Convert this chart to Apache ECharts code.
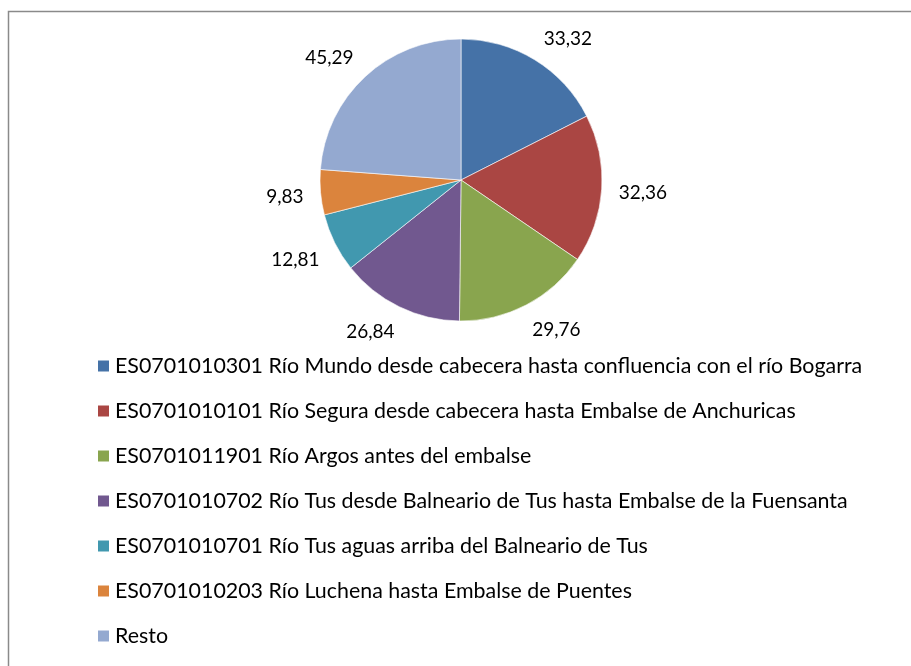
<!DOCTYPE html>
<html>
<head>
<meta charset="utf-8">
<script src="https://cdn.jsdelivr.net/npm/echarts@6/dist/echarts.min.js"></script>
<style>
html, body { margin: 0; padding: 0; background: #fff; }
#chart { width: 911px; height: 666px; }
</style>
</head>
<body>
<div id="chart"></div>
<script>
const categories = [
  'ES0701010301 Río Mundo desde cabecera hasta confluencia con el río Bogarra',
  'ES0701010101 Río Segura desde cabecera hasta Embalse de Anchuricas',
  'ES0701011901 Río Argos antes del embalse',
  'ES0701010702 Río Tus desde Balneario de Tus hasta Embalse de la Fuensanta',
  'ES0701010701 Río Tus aguas arriba del Balneario de Tus',
  'ES0701010203 Río Luchena hasta Embalse de Puentes',
  'Resto'
]
const values = [33.32, 32.36, 29.76, 26.84, 12.81, 9.83, 45.29]
const colors = ['#4572A7', '#AA4643', '#89A54E', '#71588F', '#4198AF', '#DB843D', '#94A9D0']

const cx = 461
const cy = 180
const radius = 141
const fontFamily = 'Lato, "Liberation Sans", sans-serif'

// mid angle of every slice, clockwise from 12 o'clock
const total = values.reduce((a, b) => a + b, 0)
const midAngles = []
let acc = 0
values.forEach(v => {
  midAngles.push((acc + v / 2) / total * 2 * Math.PI)
  acc += v
})

// excel-like placement: the corner of the label that faces the pie sits just outside the rim
const placeLabel = (params) => {
  const a = midAngles[params.dataIndex]
  const ux = Math.sin(a)
  const uy = -Math.cos(a)
  const w = params.labelRect.width
  const clamp = v => Math.max(-1, Math.min(1, v))
  const px = cx + ux * (radius + 17)
  const py = cy + uy * (radius + 17)
  return {
    x: px + clamp(2 * ux) * w / 2,
    y: py + clamp(2 * uy) * 8 + 2,
    align: 'center',
    verticalAlign: 'middle'
  }
}

const chart = echarts.init(document.getElementById('chart'))
chart.setOption({
  animation: false,
  color: colors,
  graphic: [{
    type: 'rect',
    shape: { x: 8.5, y: 11.5, width: 1200, height: 1200 },
    style: { fill: 'none', stroke: '#8a8a8a', lineWidth: 1.5 },
    silent: true
  }],
  legend: {
    orient: 'vertical',
    left: 96,
    top: 355,
    padding: 0,
    itemGap: 23,
    itemWidth: 13,
    itemHeight: 13,
    icon: 'rect',
    selectedMode: false,
    data: categories,
    textStyle: { fontFamily, fontSize: 21.4, color: '#000', lineHeight: 22 }
  },
  series: [{
    type: 'pie',
    center: [cx, cy],
    radius: radius,
    startAngle: 90,
    clockwise: true,
    avoidLabelOverlap: false,
    silent: true,
    itemStyle: { borderColor: '#fff', borderWidth: 0.6 },
    label: {
      show: true,
      position: 'outside',
      fontFamily,
      fontSize: 19,
      color: '#000',
      formatter: p => p.value.toFixed(2).replace('.', ',')
    },
    labelLine: { show: false },
    labelLayout: placeLabel,
    data: categories.map((name, i) => ({ name, value: values[i] }))
  }]
})
</script>
</body>
</html>
